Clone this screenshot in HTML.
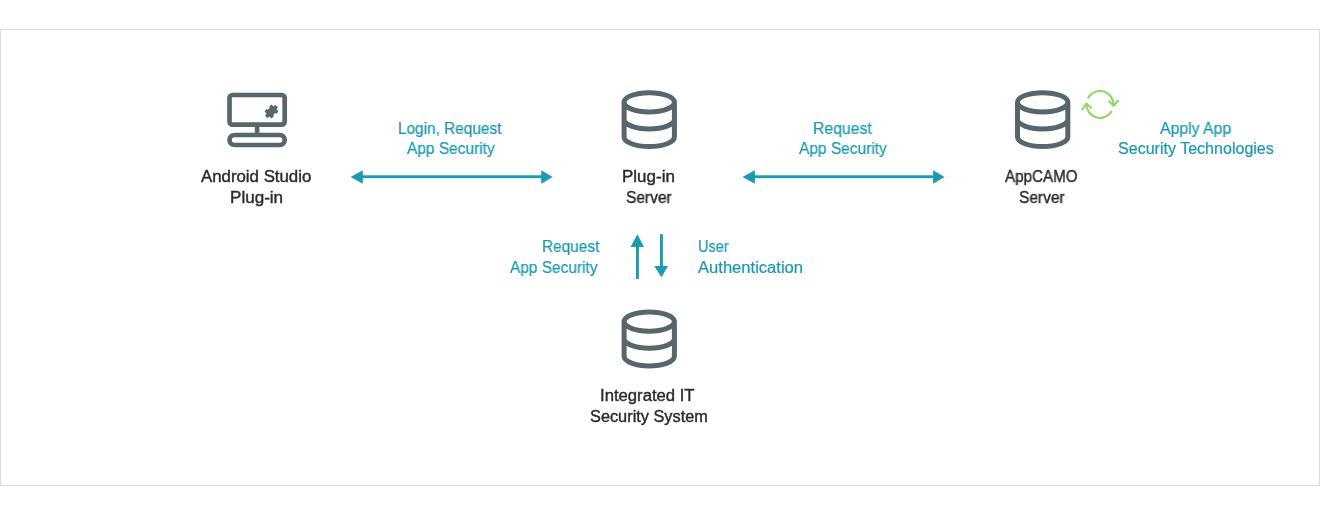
<!DOCTYPE html>
<html><head><meta charset="utf-8">
<style>
html,body{margin:0;padding:0;background:#fff;}
body{width:1320px;height:514px;position:relative;overflow:hidden;font-family:"Liberation Sans",sans-serif;}
.frame{position:absolute;left:0;top:29px;width:1318px;height:455px;border:1px solid #dcdcdc;}
.t{position:absolute;white-space:nowrap;font-size:16px;line-height:21px;}
.d{color:#2b2b2b;-webkit-text-stroke:0.4px #2b2b2b;}
.c{color:#1898b2;-webkit-text-stroke:0.2px #1898b2;}
svg{position:absolute;left:0;top:0;}
.t{transform-origin:0 0;will-change:transform;}
#t1{left:201.0px;top:166px;transform:scaleX(1.051);}
#t2{left:230.0px;top:187px;transform:scaleX(1.066);}
#t3{left:621.8px;top:166px;transform:scaleX(1.062);}
#t4{left:625.6px;top:187px;transform:scaleX(0.967);}
#t5{left:1005.3px;top:166px;transform:scaleX(0.949);}
#t6{left:1018.6px;top:187px;transform:scaleX(0.967);}
#t7{left:600.4px;top:385px;transform:scaleX(1.042);}
#t8{left:590.2px;top:406px;transform:scaleX(1.020);}
#c1{left:398.0px;top:118px;transform:scaleX(0.961);}
#c2{left:406.6px;top:138px;transform:scaleX(0.967);}
#c3{left:812.6px;top:118px;transform:scaleX(0.987);}
#c4{left:798.6px;top:138px;transform:scaleX(0.968);}
#c5{left:1160.4px;top:118px;transform:scaleX(0.988);}
#c6{left:1117.8px;top:138px;transform:scaleX(1.003);}
#c7{left:542.1px;top:236px;transform:scaleX(0.962);}
#c8{left:510.0px;top:257px;transform:scaleX(0.965);}
#c9{left:698.2px;top:236px;transform:scaleX(0.912);}
#c10{left:698.2px;top:257px;transform:scaleX(1.036);}

</style></head><body>
<div class="frame"></div>
<svg width="1320" height="514" viewBox="0 0 1320 514">
  <g fill="none" stroke="#57666a" stroke-width="4.7">
    <!-- monitor -->
    <rect x="229.5" y="95" width="55.2" height="29.6" rx="3"/>
    <rect x="229.5" y="135" width="55.2" height="10" rx="5"/>
  </g>
  <rect x="254.8" y="126" width="4.6" height="7" fill="#57666a"/>
  <!-- db icons -->
  <g fill="none" stroke="#57666a" stroke-width="5">
    <g transform="translate(621.6,90)">
      <path d="M2.5,12.3 A25.15,9.6 0 0 1 52.8,12.3 A25.15,9.6 0 0 1 2.5,12.3 Z M2.5,12.3 V47 A25.15,9.6 0 0 0 52.8,47 V12.3 M2.5,29.3 A25.15,9.6 0 0 0 52.8,29.3"/>
    </g>
    <g transform="translate(1015,90)">
      <path d="M2.5,12.3 A25.15,9.6 0 0 1 52.8,12.3 A25.15,9.6 0 0 1 2.5,12.3 Z M2.5,12.3 V47 A25.15,9.6 0 0 0 52.8,47 V12.3 M2.5,29.3 A25.15,9.6 0 0 0 52.8,29.3"/>
    </g>
    <g transform="translate(621.6,309.3)">
      <path d="M2.5,12.3 A25.15,9.6 0 0 1 52.8,12.3 A25.15,9.6 0 0 1 2.5,12.3 Z M2.5,12.3 V47 A25.15,9.6 0 0 0 52.8,47 V12.3 M2.5,29.3 A25.15,9.6 0 0 0 52.8,29.3"/>
    </g>
  </g>
  <!-- puzzle -->
  <g transform="translate(271.5,111.4) rotate(45)">
    <rect x="-5" y="-5" width="10" height="10" rx="0.8" fill="#57666a"/>
    <circle cx="0" cy="-5.7" r="2.1" fill="#57666a"/>
    <circle cx="0" cy="5.7" r="2.1" fill="#57666a"/>
    <circle cx="5.4" cy="0" r="1.8" fill="#fff"/>
    <circle cx="-5.4" cy="0" r="1.8" fill="#fff"/>
  </g>
  <!-- arrows -->
  <g fill="#1a9bb1">
    <rect x="362" y="175.3" width="180" height="2.9"/>
    <path d="M350.6,177 L362.8,170.3 L362.8,183.7 Z"/>
    <path d="M552.7,177 L541.2,170.3 L541.2,183.7 Z"/>
    <rect x="754" y="175.3" width="180" height="2.9"/>
    <path d="M742.5,177 L754.9,170.3 L754.9,183.7 Z"/>
    <path d="M944.6,177 L933.1,170.3 L933.1,183.7 Z"/>
    <rect x="636" y="246" width="2.9" height="33"/>
    <path d="M637.4,234.3 L630.5,246.9 L644,246.9 Z"/>
    <rect x="660" y="234.1" width="2.9" height="33"/>
    <path d="M661.4,277.3 L654.3,265.9 L668,265.9 Z"/>
  </g>
  <!-- refresh -->
  <g fill="none" stroke="#92d466" stroke-width="2.05" stroke-linecap="round" stroke-linejoin="round">
    <path d="M1088.2,97.8 A13.5,13.5 0 0 1 1113.4,105.6"/>
    <path d="M1109.2,101.2 L1113.5,105.6 L1118.1,100.8"/>
    <path d="M1111.4,111.6 A13.5,13.5 0 0 1 1086.5,103.7"/>
    <path d="M1082.2,109.3 L1086.4,103.7 L1091.1,107.8"/>
  </g>
</svg>
<!-- texts -->
<div class="t d" id="t1">Android Studio</div>
<div class="t d" id="t2">Plug-in</div>
<div class="t d" id="t3">Plug-in</div>
<div class="t d" id="t4">Server</div>
<div class="t d" id="t5">AppCAMO</div>
<div class="t d" id="t6">Server</div>
<div class="t d" id="t7">Integrated IT</div>
<div class="t d" id="t8">Security System</div>
<div class="t c" id="c1">Login, Request</div>
<div class="t c" id="c2">App Security</div>
<div class="t c" id="c3">Request</div>
<div class="t c" id="c4">App Security</div>
<div class="t c" id="c5">Apply App</div>
<div class="t c" id="c6">Security Technologies</div>
<div class="t c" id="c7">Request</div>
<div class="t c" id="c8">App Security</div>
<div class="t c" id="c9">User</div>
<div class="t c" id="c10">Authentication</div>
</body></html>
